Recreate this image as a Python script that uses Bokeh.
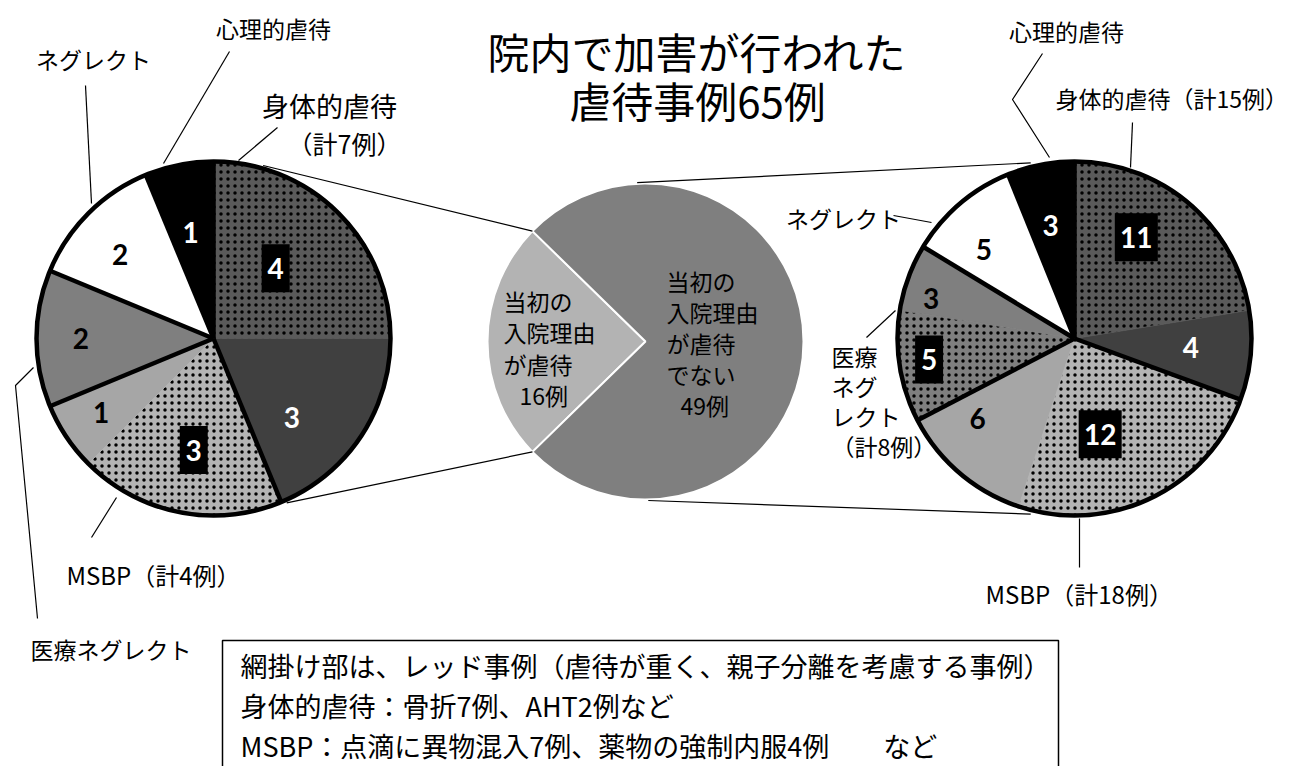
import math
from bokeh.plotting import figure
from bokeh.models import Range1d
from bokeh.core.properties import value
from bokeh.embed import file_html
from bokeh.resources import INLINE

# ---------------- data ----------------
categories = ["身体的虐待", "MSBP", "医療ネグレクト", "ネグレクト", "心理的虐待"]
left_red = [4, 3, 0, 0, 0]          # レッド事例 (hatched)
left_other = [3, 1, 2, 2, 1]
right_red = [11, 12, 5, 0, 0]
right_other = [4, 6, 3, 5, 3]
mid_values = [16, 49]
mid_texts = [["当初の", "入院理由", "が虐待"], ["当初の", "入院理由", "が虐待", "でない"]]
title_lines = ["院内で加害が行われた", "虐待事例65例"]
note_lines = ["網掛け部は、レッド事例（虐待が重く、親子分離を考慮する事例）",
              "身体的虐待：骨折7例、AHT2例など",
              "MSBP：点滴に異物混入7例、薬物の強制内服4例　　など"]

# ---------------- style / layout ----------------
W, H = 1290, 766
JP = value("Noto Sans CJK JP")
NUM = value("Lato")
base_col = {"身体的虐待": "#404040", "MSBP": "#a6a6a6", "医療ネグレクト": "#7f7f7f",
            "ネグレクト": "#ffffff", "心理的虐待": "#000000"}
hatch_bg = {"身体的虐待": "#5a5a5a", "MSBP": "#b4b4b4", "医療ネグレクト": "#7f7f7f"}
num_col = {"身体的虐待": "white", "MSBP": "black", "医療ネグレクト": "black",
           "ネグレクト": "black", "心理的虐待": "white"}

LC = (213, 338, 177)     # left pie centre x, y(px, top-down), radius
RC = (1074, 338, 177)
MC = (645, 341, 158)
left_label_r = [0.53, 0.63, 0.64, 0.76, 0.75, 0.71, 0.61]
left_label_nudge = [-3.5, 11.6, -1.2, 0.5, 0, -3, -1]
right_label_r = [0.67, 0.66, 0.56, 0.71, 0.83, 0.84, 0.72, 0.65]
right_label_nudge = [-9, -1, 10.7, 10, 1, -4.7, -5, -1]

p = figure(width=W, height=H, output_backend="svg", toolbar_location=None,
           x_range=Range1d(0, W), y_range=Range1d(0, H), min_border=0)
p.axis.visible = False
p.grid.visible = False
p.outline_line_color = None
p.background_fill_color = "white"


def Y(py):
    return H - py


def polar(cx, cy, r, deg):
    a = math.radians(deg)
    return cx + r * math.sin(a), cy - r * math.cos(a)


def ang(frac):
    return math.pi / 2 - 2 * math.pi * frac


def pie(c, red, other, lab_r, lab_n):
    cx, cy, r = c
    total = sum(red) + sum(other)
    slices, bounds, cum = [], [], 0
    for i, cat in enumerate(categories):
        bounds.append(cum)
        for is_red, v in ((True, red[i]), (False, other[i])):
            if v:
                slices.append((cat, is_red, v, cum, cum + v))
                cum += v
    for hatched in (False, True):
        ss = [s for s in slices if s[1] == hatched]
        if not ss:
            continue
        cols = [hatch_bg[s[0]] if hatched else base_col[s[0]] for s in ss]
        kw = dict(hatch_pattern="dot", hatch_color="black", hatch_scale=7,
                  hatch_weight=3.4) if hatched else {}
        p.wedge(x=cx, y=Y(cy), radius=r,
                start_angle=[ang(s[4] / total) for s in ss],
                end_angle=[ang(s[3] / total) for s in ss],
                fill_color=cols, line_color=cols, line_width=0.8, **kw)
    # category separators and rim
    xs, ys = [], []
    for b in bounds:
        x1, y1 = polar(cx, cy, r, 360 * b / total)
        xs.append([cx, x1]); ys.append([Y(cy), Y(y1)])
    p.multi_line(xs, ys, line_color="black", line_width=4.5)
    p.circle(x=[cx], y=[Y(cy)], radius=r, fill_color=None, line_color="black", line_width=4.5)
    # value labels
    bx, by, bw, tx, ty, tt, tc = [], [], [], [], [], [], []
    for k, s in enumerate(slices):
        mid = 360 * (s[3] + s[4]) / 2 / total + lab_n[k]
        x, y = polar(cx, cy, r * lab_r[k], mid)
        txt = str(s[2])
        tx.append(x); ty.append(Y(y)); tt.append(txt)
        if s[1]:
            bx.append(x); by.append(Y(y)); bw.append(13 + 15 * len(txt))
            tc.append("white")
        else:
            tc.append(num_col[s[0]])
    p.rect(x=bx, y=by, width=bw, height=48, fill_color="black", line_color=None)
    p.text(x=tx, y=ty, text=tt, text_color=tc, text_font=NUM, text_font_style="bold",
           text_font_size="28px", text_align="center", text_baseline="middle")


pie(LC, left_red, left_other, left_label_r, left_label_nudge)
pie(RC, right_red, right_other, right_label_r, right_label_nudge)

# middle pie
mx, my, mr = MC
mt = sum(mid_values)
half = 0.5 * mid_values[0] / mt
p.wedge(x=mx, y=Y(my), radius=mr,
        start_angle=[math.pi - 2 * math.pi * half, math.pi + 2 * math.pi * half],
        end_angle=[math.pi + 2 * math.pi * half, math.pi - 2 * math.pi * half],
        fill_color=["#b3b3b3", "#7f7f7f"], line_color="white", line_width=2)

def txt(x, y, s, size, align="left", color="black", style="normal"):
    p.text(x=[x], y=[Y(y)], text=[s], text_font=JP, text_font_size=size,
           text_align=align, text_baseline="middle", text_color=color,
           text_font_style=style)

for i, line in enumerate(mid_texts[0]):
    txt(503, 300 + 31.5 * i, line, "23px")
txt(519, 394, f"{mid_values[0]}例", "23px")
for i, line in enumerate(mid_texts[1]):
    txt(666, 280 + 31 * i, line, "23px")
txt(680, 404, f"{mid_values[1]}例", "23px")

# title
txt(697, 50, title_lines[0], "42px", "center")
txt(697, 99, title_lines[1], "42px", "center")

# connector lines between pies
lcx, lcy, lr = LC
rcx, rcy, rr = RC
conn = [
    (polar(lcx, lcy, lr + 3, 16), polar(mx, my, mr, 360 * (0.75 + half))),
    (polar(lcx, lcy, lr + 3, 156), polar(mx, my, mr, 360 * (0.75 - half))),
    (polar(mx, my, mr + 1, -3), polar(rcx, rcy, rr + 4, -14)),
    (polar(mx, my, mr + 1, 179), polar(rcx, rcy, rr + 4, 194)),
]
p.multi_line([[a[0], b[0]] for a, b in conn], [[Y(a[1]), Y(b[1])] for a, b in conn],
             line_color="black", line_width=1.2)

# leader lines for category labels
leaders = [
    [(229, 51), (163, 163)],
    [(85, 85), (91, 203)],
    [(277, 127), (238, 160)],
    [(33, 367), (15, 385), (37, 618)],
    [(116, 497), (91, 537)],
    [(1042, 53), (1012, 99), (1049, 157)],
    [(1132, 122), (1130, 167)],
    [(893, 215), (931, 222)],
    [(866, 337), (895, 310)],
    [(1079, 518), (1079, 567)],
]
p.multi_line([[q[0] for q in l] for l in leaders], [[Y(q[1]) for q in l] for l in leaders],
             line_color="black", line_width=1.2)

# category labels
left_total = [left_red[i] + left_other[i] for i in range(5)]
right_total = [right_red[i] + right_other[i] for i in range(5)]
txt(273, 27, categories[4], "23px", "center")
txt(93, 58, categories[3], "23px", "center")
txt(329, 105, categories[0], "27px", "center")
txt(344, 142, f"（計{left_total[0]}例）", "25px", "center")
txt(66, 574, f"MSBP（計{left_total[1]}例）", "24px")
txt(30, 648, categories[2], "23px")
txt(1066, 30, categories[4], "23px", "center")
txt(1055, 97, f"{categories[0]}（計{right_total[0]}例）", "23px")
txt(843, 217, categories[3], "23px", "center")
for i, s in enumerate(["医療", "ネグ", "レクト", f"（計{right_total[2]}例）"]):
    txt(831, 355 + 30 * i, s, "23px")
txt(985, 593, f"MSBP（計{right_total[1]}例）", "24px")

# note box
p.quad(left=[222], right=[1058], top=[Y(640)], bottom=[Y(800)], fill_color="white",
       line_color="black", line_width=1.5)
for i, s in enumerate(note_lines):
    txt(240, 665 + 40 * i, s, "27px")

open("out.html", "w").write(file_html(p, INLINE))
